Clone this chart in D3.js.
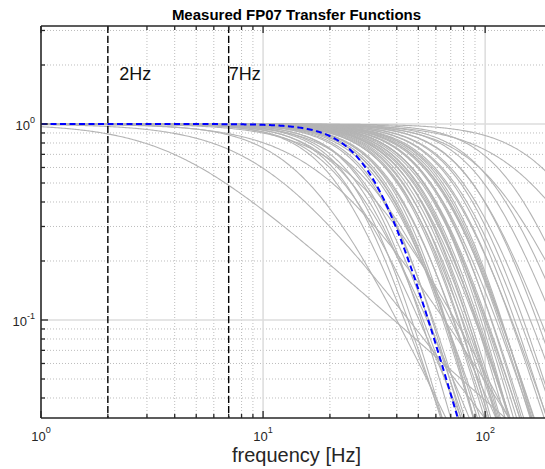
<!DOCTYPE html>
<html>
<head>
<meta charset="utf-8">
<script src="https://cdn.jsdelivr.net/npm/d3@7"></script>
<style>
  html, body { margin: 0; padding: 0; background: #fff; }
  svg { display: block; font-family: "Liberation Sans", Arial, Helvetica, sans-serif; }
</style>
</head>
<body>
<svg id="chart" width="545" height="469"></svg>
<script>
// Fitted FP07 thermistor responses: cutoff frequency [Hz] and high-frequency roll-off exponent per probe
const cutoffHz = [
  3.9, 10, 16, 19, 23, 27, 110, 130, 160, 210,
  22, 25, 28, 30,
  26, 29, 31, 33, 35, 36, 38, 39, 40, 41, 42, 43, 44, 45, 46, 47, 48, 49, 50,
  51, 52, 53, 54, 55, 56, 57, 58, 59, 60, 61, 62, 63, 64, 65, 66, 68, 69, 70,
  72, 74, 76, 78, 80, 83, 86, 90, 95, 100, 108
];
const rolloff = [
  1.0, 1.5, 2.4, 1.8, 2.8, 2.2, 2.6, 3.0, 2.2, 2.6,
  3.2, 2.8, 3.4, 2.6,
  3.8, 4.2, 3.6, 4.4, 4.0, 3.5, 4.6, 3.9, 4.2, 3.7, 4.4, 4.0, 3.6, 4.8, 4.1, 3.8, 4.3, 3.5, 4.0,
  4.5, 3.7, 4.2, 3.9, 4.6, 3.6, 4.1, 4.4, 3.8, 4.0, 3.5, 4.3, 3.9, 4.7, 3.6, 4.2, 3.8, 4.0, 3.4,
  4.1, 3.7, 4.4, 3.5, 3.9, 3.3, 3.8, 3.2, 3.6, 3.1, 3.0
];
const probeKneeMax = 3;
// Reference (average) response
const meanCutoffHz = 32;
const meanRolloff = 4;
const meanKnee = 4;

// Vertical markers
const markerHz = [2, 7];
const markerLabels = ["2Hz", "7Hz"];
const markerLabelHz = [2.25, 7];

// Axis settings
const xDomain = [1, 200];
const yDomain = [Math.pow(10, -1.5), Math.pow(10, 0.5)];
const xMajor = [1, 10, 100];
const yMajor = [0.1, 1];
const xTickExp = ["0", "1", "2"];
const yTickExp = ["-1", "0"];

const margin = { left: 41, top: 26, right: 552, bottom: 418 };

const svg = d3.select("#chart");
const x = d3.scaleLog().domain(xDomain).range([margin.left, margin.right]);
const y = d3.scaleLog().domain(yDomain).range([margin.bottom, margin.top]);

// Minor positions between decades
const xMinor = [];
for (let d = 1; d <= 100; d *= 10) for (let m = 2; m <= 9; m++) if (d * m <= xDomain[1]) xMinor.push(d * m);
const yMinor = [];
for (let d = 0.01; d <= 1; d *= 10) for (let m = 2; m <= 9; m++) {
  const v = +(d * m).toPrecision(3);
  if (v > yDomain[0] && v < yDomain[1]) yMinor.push(v);
}

svg.append("defs").append("clipPath").attr("id", "plot-clip")
  .append("rect")
  .attr("x", margin.left).attr("y", margin.top)
  .attr("width", margin.right - margin.left).attr("height", margin.bottom - margin.top);

// Grid
const grid = svg.append("g");
grid.selectAll(".xminor").data(xMinor).join("line")
  .attr("x1", d => x(d)).attr("x2", d => x(d))
  .attr("y1", margin.top).attr("y2", margin.bottom)
  .attr("stroke", "#bdbdbd").attr("stroke-width", 1).attr("stroke-dasharray", "1,2");
grid.selectAll(".yminor").data(yMinor).join("line")
  .attr("y1", d => y(d)).attr("y2", d => y(d))
  .attr("x1", margin.left).attr("x2", margin.right)
  .attr("stroke", "#bdbdbd").attr("stroke-width", 1).attr("stroke-dasharray", "1,2");
grid.selectAll(".xmajor").data(xMajor.slice(1)).join("line")
  .attr("x1", d => x(d)).attr("x2", d => x(d))
  .attr("y1", margin.top).attr("y2", margin.bottom)
  .attr("stroke", "#dcdcdc").attr("stroke-width", 1.5);
grid.selectAll(".ymajor").data(yMajor).join("line")
  .attr("y1", d => y(d)).attr("y2", d => y(d))
  .attr("x1", margin.left).attr("x2", margin.right)
  .attr("stroke", "#dcdcdc").attr("stroke-width", 1.5);

// Transfer function magnitude: (1 + (f/fc)^k)^(-s/k)
function response(f, fc, s, k) {
  return Math.pow(1 + Math.pow(f / fc, k), -s / k);
}
const freqs = d3.range(0, 400).map(i => Math.pow(10, i / 399 * Math.log10(xDomain[1])));
const line = d3.line().x(d => x(d[0])).y(d => y(Math.max(d[1], 1e-3)));

const curves = svg.append("g").attr("clip-path", "url(#plot-clip)");
curves.selectAll(".probe")
  .data(cutoffHz.map((fc, i) => ({ fc, s: rolloff[i], k: Math.min(probeKneeMax, Math.max(2, rolloff[i])) })))
  .join("path")
  .attr("fill", "none").attr("stroke", "#b4b4b4").attr("stroke-width", 1.1)
  .attr("d", p => line(freqs.map(f => [f, response(f, p.fc, p.s, p.k)])));

curves.append("path")
  .attr("fill", "none").attr("stroke", "#0000ff").attr("stroke-width", 2)
  .attr("stroke-dasharray", "6,3.5")
  .attr("d", line(freqs.map(f => [f, response(f, meanCutoffHz, meanRolloff, meanKnee)])));

// Frequency markers
const markers = svg.append("g");
markers.selectAll("line").data(markerHz).join("line")
  .attr("x1", d => x(d)).attr("x2", d => x(d))
  .attr("y1", margin.top).attr("y2", margin.bottom)
  .attr("stroke", "#000").attr("stroke-width", 1.4).attr("stroke-dasharray", "7,3");
markers.selectAll("text").data(markerLabels).join("text")
  .attr("x", (d, i) => x(markerLabelHz[i])).attr("y", 80)
  .attr("font-size", 18).attr("fill", "#111").text(d => d);

// Axes frame and ticks
const axis = svg.append("g").attr("stroke", "#262626");
axis.append("line").attr("x1", margin.left).attr("x2", margin.left)
  .attr("y1", margin.top).attr("y2", margin.bottom).attr("stroke-width", 1.6);
axis.append("line").attr("x1", margin.left).attr("x2", margin.right)
  .attr("y1", margin.bottom).attr("y2", margin.bottom).attr("stroke-width", 1.6);
axis.append("line").attr("x1", margin.left).attr("x2", margin.right)
  .attr("y1", margin.top).attr("y2", margin.top).attr("stroke-width", 1.6);

const xTickData = xMajor.map(v => ({ v, len: 7 })).concat(xMinor.map(v => ({ v, len: 4 })));
axis.selectAll(".xtb").data(xTickData).join("line")
  .attr("x1", d => x(d.v)).attr("x2", d => x(d.v))
  .attr("y1", margin.bottom).attr("y2", d => margin.bottom - d.len).attr("stroke-width", 1.3);
axis.selectAll(".xtt").data(xTickData).join("line")
  .attr("x1", d => x(d.v)).attr("x2", d => x(d.v))
  .attr("y1", margin.top).attr("y2", d => margin.top + d.len).attr("stroke-width", 1.3);
const yTickData = yMajor.map(v => ({ v, len: 7 })).concat(yMinor.map(v => ({ v, len: 4 })));
axis.selectAll(".ytl").data(yTickData).join("line")
  .attr("y1", d => y(d.v)).attr("y2", d => y(d.v))
  .attr("x1", margin.left).attr("x2", d => margin.left + d.len).attr("stroke-width", 1.3);

// Tick labels (powers of ten)
const labels = svg.append("g").attr("fill", "#262626");
xMajor.forEach((v, i) => {
  const t = labels.append("text").attr("x", x(v)).attr("y", 441)
    .attr("text-anchor", "middle").attr("font-size", 13);
  t.append("tspan").text("10");
  t.append("tspan").attr("dy", -8).attr("font-size", 9).text(xTickExp[i]);
});
yMajor.forEach((v, i) => {
  const t = labels.append("text").attr("x", 35).attr("y", y(v) + 6)
    .attr("text-anchor", "end").attr("font-size", 13);
  t.append("tspan").text("10");
  t.append("tspan").attr("dy", -7).attr("font-size", 9).text(yTickExp[i]);
});

// Axis label and title
svg.append("text").attr("x", (margin.left + margin.right) / 2).attr("y", 462)
  .attr("text-anchor", "middle").attr("font-size", 20).attr("fill", "#262626")
  .text("frequency [Hz]");
svg.append("text").attr("x", (margin.left + margin.right) / 2).attr("y", 20)
  .attr("text-anchor", "middle").attr("font-size", 15).attr("font-weight", "bold").attr("fill", "#000")
  .text("Measured FP07 Transfer Functions");
</script>
</body>
</html>
